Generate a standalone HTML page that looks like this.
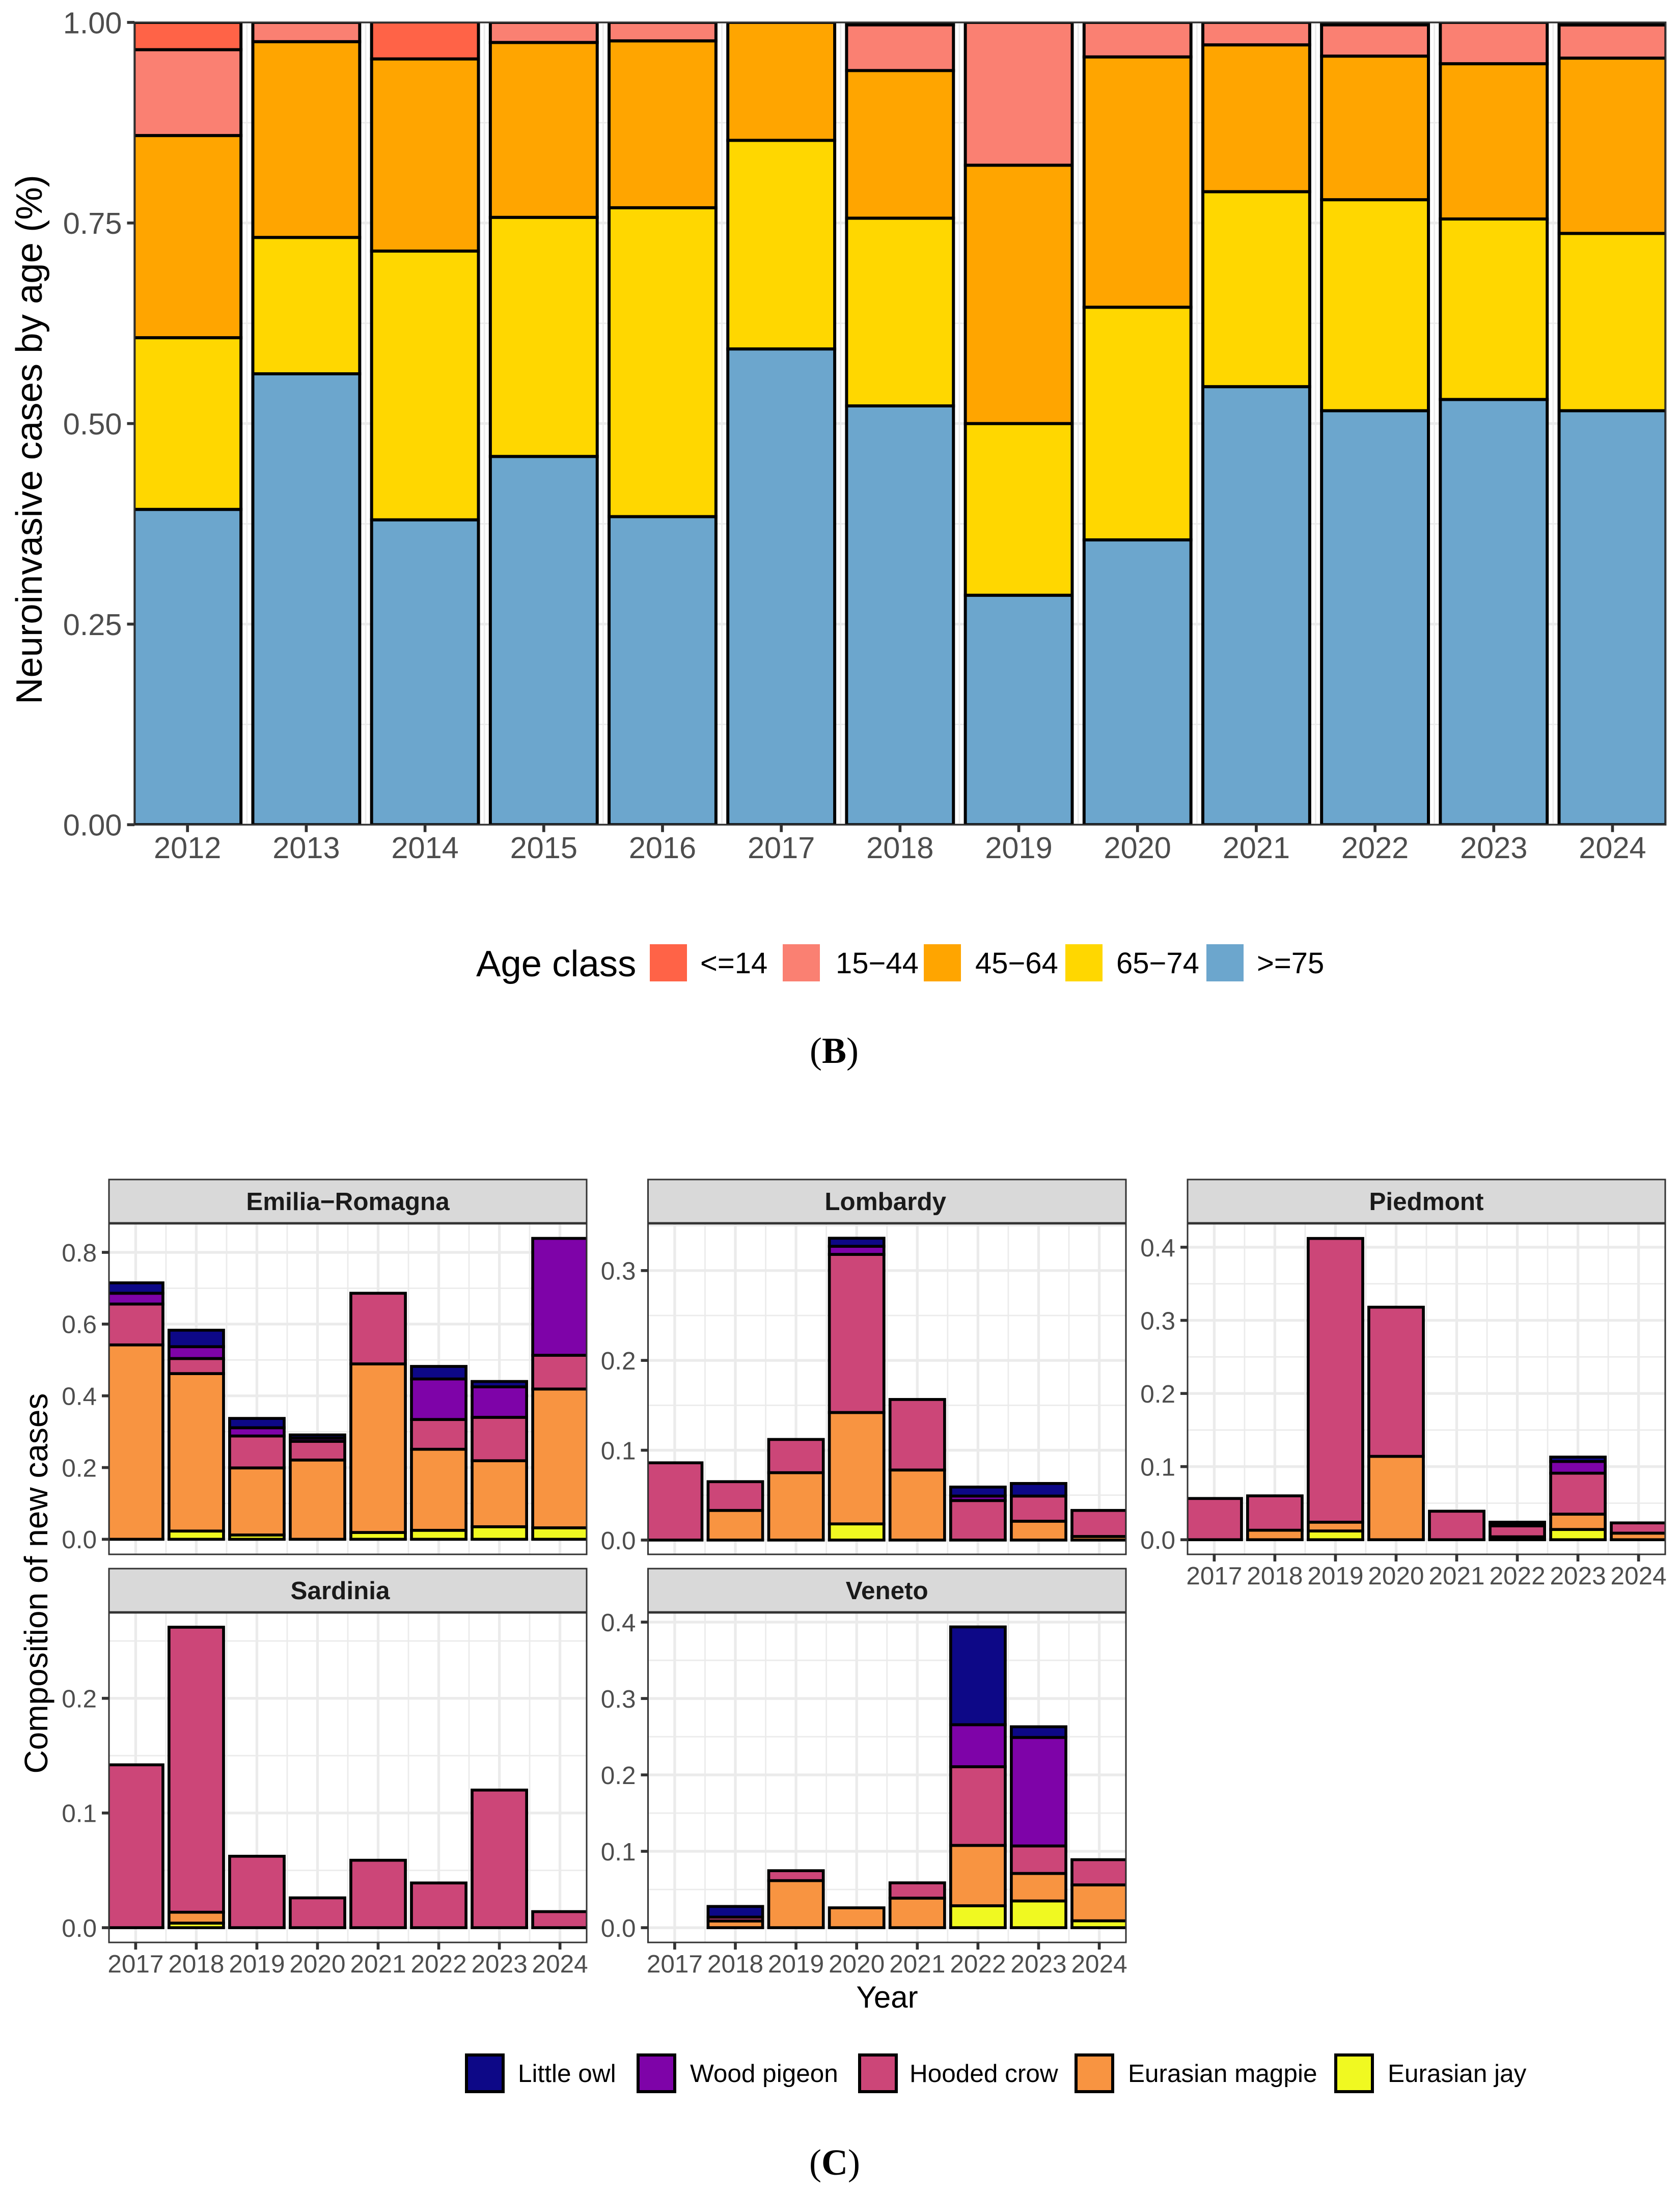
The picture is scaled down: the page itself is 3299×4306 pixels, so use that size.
<!DOCTYPE html>
<html lang="en">
<head>
<meta charset="utf-8">
<title>Neuroinvasive cases by age and composition of new cases</title>
<style>
html,body{margin:0;padding:0;background:#fff;}
svg{display:block;font-family:"Liberation Sans",sans-serif;}
.serif{font-family:"Liberation Serif",serif;}
</style>
</head>
<body>
<svg id="figure" xmlns="http://www.w3.org/2000/svg" width="3299" height="4306" viewBox="0 0 3299 4306">
<rect x="0" y="0" width="3299" height="4306" fill="#ffffff"/>
<g id="age-chart"></g>
<text transform="translate(82,863) rotate(-90)" text-anchor="middle" font-size="72.5" fill="#000">Neuroinvasive cases by age (%)</text>
<g>
<text x="935" y="1917" font-size="72.5" fill="#000">Age class</text>
<rect x="1276" y="1854" width="73" height="73" fill="#FF6347"/>
<text x="1375" y="1911" font-size="58" fill="#000">&lt;=14</text>
<rect x="1537" y="1854" width="73" height="73" fill="#FA8072"/>
<text x="1641" y="1911" font-size="58" fill="#000">15−44</text>
<rect x="1814" y="1854" width="73" height="73" fill="#FFA500"/>
<text x="1915" y="1911" font-size="58" fill="#000">45−64</text>
<rect x="2092" y="1854" width="73" height="73" fill="#FFD700"/>
<text x="2192" y="1911" font-size="58" fill="#000">65−74</text>
<rect x="2369" y="1854" width="73" height="73" fill="#6CA6CD"/>
<text x="2468" y="1911" font-size="58" fill="#000">&gt;=75</text>
</g>
<text class="serif" x="1638" y="2087" text-anchor="middle" font-size="72" fill="#000">(<tspan font-weight="bold">B</tspan>)</text>
<g id="facet-chart"></g>
<text transform="translate(93,3109) rotate(-90)" text-anchor="middle" font-size="64" fill="#000">Composition of new cases</text>
<text x="1742" y="3942" text-anchor="middle" font-size="60" fill="#000">Year</text>
<g>
<rect x="916" y="4035" width="72" height="72" fill="#0D0887" stroke="#000" stroke-width="6"/>
<text x="1017" y="4088" font-size="49.5" fill="#000">Little owl</text>
<rect x="1253" y="4035" width="72" height="72" fill="#7E03A8" stroke="#000" stroke-width="6"/>
<text x="1355" y="4088" font-size="49.5" fill="#000">Wood pigeon</text>
<rect x="1688" y="4035" width="72" height="72" fill="#CC4678" stroke="#000" stroke-width="6"/>
<text x="1786" y="4088" font-size="49.5" fill="#000">Hooded crow</text>
<rect x="2113" y="4035" width="72" height="72" fill="#F89441" stroke="#000" stroke-width="6"/>
<text x="2215" y="4088" font-size="49.5" fill="#000">Eurasian magpie</text>
<rect x="2623" y="4035" width="72" height="72" fill="#F0F921" stroke="#000" stroke-width="6"/>
<text x="2725" y="4088" font-size="49.5" fill="#000">Eurasian jay</text>
</g>
<text class="serif" x="1639" y="4270" text-anchor="middle" font-size="72" fill="#000">(<tspan font-weight="bold">C</tspan>)</text>
</svg>
<script>
// ---------- Age chart data ----------
const ageYears = [2012, 2013, 2014, 2015, 2016, 2017, 2018, 2019, 2020, 2021, 2022, 2023, 2024];
const ageOver75 = [0.393, 0.562, 0.380, 0.459, 0.384, 0.593, 0.522, 0.286, 0.355, 0.546, 0.516, 0.530, 0.516];
const age65to74 = [0.214, 0.170, 0.335, 0.298, 0.385, 0.260, 0.234, 0.214, 0.290, 0.243, 0.263, 0.225, 0.221];
const age45to64 = [0.252, 0.244, 0.2395, 0.218, 0.208, 0.147, 0.184, 0.322, 0.312, 0.183, 0.179, 0.1935, 0.2185];
const age15to44 = [0.107, 0.024, 0, 0.025, 0.023, 0, 0.057, 0.178, 0.043, 0.028, 0.039, 0.0515, 0.0413];
const ageUnder14 = [0.034, 0, 0.046, 0, 0, 0, 0.003, 0, 0, 0, 0.003, 0, 0.0032];
const ageYTicks = [0, 0.25, 0.5, 0.75, 1];
const ageYMinor = [0.125, 0.375, 0.625, 0.875];
const ageYTickLabels = ['0.00', '0.25', '0.50', '0.75', '1.00'];

// ---------- Facet chart data (order 2017..2024) ----------
const facetYears = [2017, 2018, 2019, 2020, 2021, 2022, 2023, 2024];

const emiliaJay = [0, 0.023, 0.012, 0, 0.019, 0.025, 0.035, 0.032];
const emiliaMagpie = [0.542, 0.439, 0.187, 0.221, 0.470, 0.226, 0.184, 0.387];
const emiliaCrow = [0.114, 0.042, 0.089, 0.052, 0.197, 0.083, 0.121, 0.094];
const emiliaPigeon = [0.030, 0.033, 0.023, 0.009, 0, 0.113, 0.085, 0.326];
const emiliaOwl = [0.029, 0.046, 0.026, 0.009, 0, 0.035, 0.015, 0];
const emiliaTicks = [0, 0.2, 0.4, 0.6, 0.8];
const emiliaMinor = [0.1, 0.3, 0.5, 0.7];
const emiliaDomain = [-0.042, 0.881];

const lombardyJay = [0, 0, 0, 0.018, 0, 0, 0, 0];
const lombardyMagpie = [0, 0.033, 0.075, 0.124, 0.078, 0, 0.021, 0.004];
const lombardyCrow = [0.086, 0.032, 0.037, 0.176, 0.0785, 0.044, 0.028, 0.029];
const lombardyPigeon = [0, 0, 0, 0.009, 0, 0.005, 0, 0];
const lombardyOwl = [0, 0, 0, 0.009, 0, 0.010, 0.014, 0];
const lombardyTicks = [0, 0.1, 0.2, 0.3];
const lombardyMinor = [0.05, 0.15, 0.25, 0.35];
const lombardyDomain = [-0.0159, 0.3526];

const piedmontJay = [0, 0, 0.012, 0, 0, 0.004, 0.014, 0];
const piedmontMagpie = [0, 0.013, 0.012, 0.114, 0, 0, 0.021, 0.009];
const piedmontCrow = [0.0564, 0.047, 0.388, 0.204, 0.039, 0.015, 0.056, 0.014];
const piedmontPigeon = [0, 0, 0, 0, 0, 0.002, 0.016, 0];
const piedmontOwl = [0, 0, 0, 0, 0, 0.003, 0.006, 0];
const piedmontTicks = [0, 0.1, 0.2, 0.3, 0.4];
const piedmontMinor = [0.05, 0.15, 0.25, 0.35];
const piedmontDomain = [-0.020, 0.4327];

const sardiniaJay = [0, 0.004, 0, 0, 0, 0, 0, 0];
const sardiniaMagpie = [0, 0.0095, 0, 0, 0, 0, 0, 0];
const sardiniaCrow = [0.142, 0.2485, 0.0623, 0.026, 0.0588, 0.039, 0.120, 0.014];
const sardiniaPigeon = [0, 0, 0, 0, 0, 0, 0, 0];
const sardiniaOwl = [0, 0, 0, 0, 0, 0, 0, 0];
const sardiniaTicks = [0, 0.1, 0.2];
const sardiniaMinor = [0.05, 0.15, 0.25];
const sardiniaDomain = [-0.01285, 0.2749];

const venetoJay = [0, 0, 0, 0, 0, 0.0287, 0.035, 0.009];
const venetoMagpie = [0, 0.0088, 0.0616, 0.026, 0.0387, 0.079, 0.036, 0.047];
const venetoCrow = [0, 0.005, 0.013, 0, 0.020, 0.103, 0.036, 0.033];
const venetoPigeon = [0, 0, 0, 0, 0, 0.055, 0.142, 0];
const venetoOwl = [0, 0.014, 0, 0, 0, 0.128, 0.014, 0];
const venetoTicks = [0, 0.1, 0.2, 0.3, 0.4];
const venetoMinor = [0.05, 0.15, 0.25, 0.35];
const venetoDomain = [-0.0193, 0.4127];

// ---------- Rendering ----------
const NS = 'http://www.w3.org/2000/svg';
const ageRoot = document.getElementById('age-chart');
const facetRoot = document.getElementById('facet-chart');
const GRID = '#ebebeb';
const AXIS = '#333333';
const TICKTEXT = '#4d4d4d';

function make(tag, parent) {
  const el = document.createElementNS(NS, tag);
  parent.appendChild(el);
  return el;
}
function linear(d0, d1, r0, r1) {
  return function (v) { return r0 + (v - d0) / (d1 - d0) * (r1 - r0); };
}
function hLine(parent, x1, x2, y, color, width, name) {
  const el = make('line', parent);
  
  
  el.setAttribute('x1', x1);
  el.setAttribute('x2', x2);
  el.setAttribute('y1', y);
  el.setAttribute('y2', y);
  el.setAttribute('stroke', color);
  el.setAttribute('stroke-width', width);
  return el;
}
function vLine(parent, x, y1, y2, color, width, name) {
  const el = make('line', parent);
  
  
  el.setAttribute('x1', x);
  el.setAttribute('x2', x);
  el.setAttribute('y1', y1);
  el.setAttribute('y2', y2);
  el.setAttribute('stroke', color);
  el.setAttribute('stroke-width', width);
  return el;
}
function label(parent, x, y, str, size, anchor, color, name) {
  const el = make('text', parent);
  
  
  el.setAttribute('x', x);
  el.setAttribute('y', y);
  el.setAttribute('font-size', size);
  el.setAttribute('text-anchor', anchor);
  el.setAttribute('fill', color);
  el.textContent = str;
  return el;
}

/* Draws one stacked-bar panel from its data arrays. */
function drawPanel(root, cfg) {
  const g = make('g', root);
  
  

  const first = cfg.cats[0];
  const last = cfg.cats[cfg.cats.length - 1];
  const xs = linear(first - cfg.xPad, last + cfg.xPad, cfg.left, cfg.right);
  const ys = linear(cfg.domain[0], cfg.domain[1], cfg.bottom, cfg.top);

  const bg = make('rect', g);
  
  
  bg.setAttribute('x', cfg.left);
  bg.setAttribute('y', cfg.top);
  bg.setAttribute('width', cfg.right - cfg.left);
  bg.setAttribute('height', cfg.bottom - cfg.top);
  bg.setAttribute('fill', '#ffffff');

  const clip = make('clipPath', g);
  clip.setAttribute('id', 'clip-' + cfg.name);
  const clipRect = make('rect', clip);
  clipRect.setAttribute('x', cfg.left);
  clipRect.setAttribute('y', cfg.top);
  clipRect.setAttribute('width', cfg.right - cfg.left);
  clipRect.setAttribute('height', cfg.bottom - cfg.top);

  const inner = make('g', g);
  inner.setAttribute('clip-path', 'url(#clip-' + cfg.name + ')');
  
  

  cfg.minor.forEach(function (v) {
    hLine(inner, cfg.left, cfg.right, ys(v), GRID, cfg.minorWidth, cfg.name + '-minor-gridline-y');
  });
  for (let i = 0; i < cfg.cats.length - 1; i++) {
    vLine(inner, xs(cfg.cats[i] + 0.5), cfg.top, cfg.bottom, GRID, cfg.minorWidth, cfg.name + '-minor-gridline-x');
  }
  cfg.ticks.forEach(function (v) {
    hLine(inner, cfg.left, cfg.right, ys(v), GRID, cfg.majorWidth, cfg.name + '-major-gridline-y');
  });
  cfg.cats.forEach(function (c) {
    vLine(inner, xs(c), cfg.top, cfg.bottom, GRID, cfg.majorWidth, cfg.name + '-major-gridline-x');
  });

  cfg.cats.forEach(function (c, i) {
    let base = 0;
    cfg.series.forEach(function (s) {
      const v = s.values[i];
      if (v > 0) {
        const r = make('rect', inner);
        
        
        r.setAttribute('x', xs(c - 0.45));
        r.setAttribute('width', xs(c + 0.45) - xs(c - 0.45));
        r.setAttribute('y', ys(base + v));
        r.setAttribute('height', ys(base) - ys(base + v));
        r.setAttribute('fill', s.color);
        r.setAttribute('stroke', '#000000');
        r.setAttribute('stroke-width', cfg.barStroke);
        base += v;
      }
    });
  });

  const border = make('rect', g);
  
  
  border.setAttribute('x', cfg.left);
  border.setAttribute('y', cfg.top);
  border.setAttribute('width', cfg.right - cfg.left);
  border.setAttribute('height', cfg.bottom - cfg.top);
  border.setAttribute('fill', 'none');
  border.setAttribute('stroke', AXIS);
  border.setAttribute('stroke-width', cfg.borderWidth);

  cfg.ticks.forEach(function (v, i) {
    hLine(g, cfg.left - cfg.tickLen, cfg.left, ys(v), AXIS, 5.7, cfg.name + '-y-tick');
    label(g, cfg.left - cfg.tickLen - cfg.labelGap, ys(v) + cfg.tickFont * 0.36, cfg.tickLabels[i], cfg.tickFont, 'end', TICKTEXT, cfg.name + '-y-tick-label');
  });

  if (cfg.showX) {
    cfg.cats.forEach(function (c) {
      vLine(g, xs(c), cfg.bottom, cfg.bottom + cfg.tickLen, AXIS, 5.7, cfg.name + '-x-tick');
      label(g, xs(c), cfg.bottom + cfg.xLabelDrop, String(c), cfg.tickFont, 'middle', TICKTEXT, cfg.name + '-x-tick-label');
    });
  }

  if (cfg.strip) {
    const st = make('rect', g);
    
    
    st.setAttribute('x', cfg.left);
    st.setAttribute('y', cfg.top - 86);
    st.setAttribute('width', cfg.right - cfg.left);
    st.setAttribute('height', 86);
    st.setAttribute('fill', '#d9d9d9');
    st.setAttribute('stroke', AXIS);
    st.setAttribute('stroke-width', cfg.borderWidth);
    hLine(g, cfg.left, cfg.right, cfg.top, AXIS, 4.7, cfg.name + '-strip-divider');
    const t = label(g, (cfg.left + cfg.right) / 2 + cfg.stripShift, cfg.top - 26, cfg.strip, 49.4, 'middle', '#1a1a1a', cfg.name + '-strip-label');
    t.setAttribute('font-weight', 'bold');
  }
}

const SPECIES_COLORS = { jay: '#F0F921', magpie: '#F89441', crow: '#CC4678', pigeon: '#7E03A8', owl: '#0D0887' };

function speciesSeries(jay, magpie, crow, pigeon, owl) {
  return [
    { key: 'eurasian-jay', color: SPECIES_COLORS.jay, values: jay },
    { key: 'eurasian-magpie', color: SPECIES_COLORS.magpie, values: magpie },
    { key: 'hooded-crow', color: SPECIES_COLORS.crow, values: crow },
    { key: 'wood-pigeon', color: SPECIES_COLORS.pigeon, values: pigeon },
    { key: 'little-owl', color: SPECIES_COLORS.owl, values: owl }
  ];
}
function oneDecimal(list) {
  return list.map(function (v) { return v.toFixed(1); });
}
function facetPanel(name, strip, stripShift, left, right, top, bottom, domain, ticks, minor, series, showX) {
  drawPanel(facetRoot, {
    name: name, strip: strip, stripShift: stripShift, cats: facetYears, series: series,
    left: left, right: right, top: top, bottom: bottom, domain: domain, xPad: 0.44,
    ticks: ticks, minor: minor, tickLabels: oneDecimal(ticks),
    tickFont: 49.5, tickLen: 14, labelGap: 10, xLabelDrop: 59, showX: showX,
    majorWidth: 5.3, minorWidth: 2.8, barStroke: 5.7, borderWidth: 3
  });
}

drawPanel(ageRoot, {
  name: 'age', strip: null, stripShift: 0, cats: ageYears,
  series: [
    { key: 'over-75', color: '#6CA6CD', values: ageOver75 },
    { key: '65-74', color: '#FFD700', values: age65to74 },
    { key: '45-64', color: '#FFA500', values: age45to64 },
    { key: '15-44', color: '#FA8072', values: age15to44 },
    { key: 'under-14', color: '#FF6347', values: ageUnder14 }
  ],
  left: 264, right: 3270.7, top: 44, bottom: 1619.3, domain: [0, 1], xPad: 0.447,
  ticks: ageYTicks, minor: ageYMinor, tickLabels: ageYTickLabels,
  tickFont: 59.5, tickLen: 14.5, labelGap: 10, xLabelDrop: 65.7, showX: true,
  majorWidth: 5.3, minorWidth: 2.8, barStroke: 6, borderWidth: 3.4
});

facetPanel('emilia-romagna', 'Emilia−Romagna', 0, 214, 1152, 2402, 3052, emiliaDomain, emiliaTicks, emiliaMinor,
  speciesSeries(emiliaJay, emiliaMagpie, emiliaCrow, emiliaPigeon, emiliaOwl), false);
facetPanel('lombardy', 'Lombardy', -3, 1272.5, 2211, 2402, 3052, lombardyDomain, lombardyTicks, lombardyMinor,
  speciesSeries(lombardyJay, lombardyMagpie, lombardyCrow, lombardyPigeon, lombardyOwl), false);
facetPanel('piedmont', 'Piedmont', 0, 2332, 3270, 2402, 3052, piedmontDomain, piedmontTicks, piedmontMinor,
  speciesSeries(piedmontJay, piedmontMagpie, piedmontCrow, piedmontPigeon, piedmontOwl), true);
facetPanel('sardinia', 'Sardinia', -15, 214, 1152, 3166, 3814, sardiniaDomain, sardiniaTicks, sardiniaMinor,
  speciesSeries(sardiniaJay, sardiniaMagpie, sardiniaCrow, sardiniaPigeon, sardiniaOwl), true);
facetPanel('veneto', 'Veneto', 0, 1272.5, 2211, 3166, 3814, venetoDomain, venetoTicks, venetoMinor,
  speciesSeries(venetoJay, venetoMagpie, venetoCrow, venetoPigeon, venetoOwl), true);
</script>
</body>
</html>
